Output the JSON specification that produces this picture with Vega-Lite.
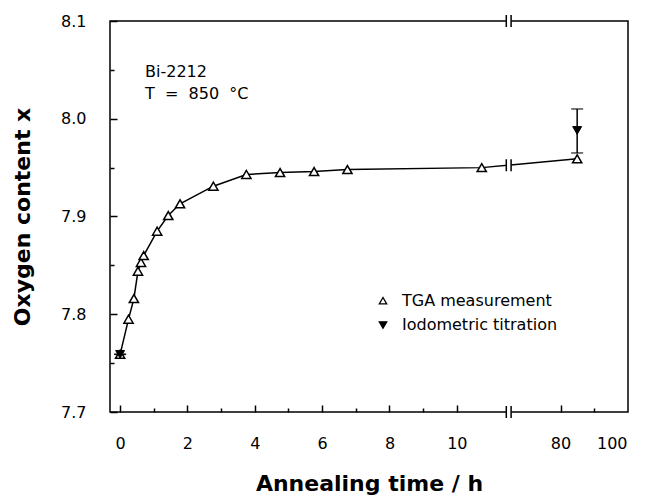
{
  "$schema": "https://vega.github.io/schema/vega-lite/v6.json",
  "autosize": {"type": "none"},
  "width": 518,
  "height": 391,
  "padding": {"left": 110, "top": 21, "right": 22, "bottom": 84},
  "background": "white",
  "config": {
    "view": {"stroke": "black", "strokeWidth": 1.5},
    "font": "DejaVu Sans",
    "axis": {
      "domain": false,
      "grid": false,
      "tickColor": "black",
      "tickWidth": 1.5,
      "labelFont": "DejaVu Sans",
      "labelFontSize": 16,
      "labelColor": "black",
      "titleFont": "DejaVu Sans",
      "titleFontSize": 22,
      "titleFontWeight": "bold",
      "titleColor": "black"
    }
  },
  "datasets": {
    "tga": [
      {"t": 0, "x": 7.759},
      {"t": 0.25, "x": 7.795},
      {"t": 0.41, "x": 7.816},
      {"t": 0.53, "x": 7.844},
      {"t": 0.62, "x": 7.853},
      {"t": 0.7, "x": 7.86},
      {"t": 1.1, "x": 7.885},
      {"t": 1.43, "x": 7.901},
      {"t": 1.78, "x": 7.913},
      {"t": 2.77, "x": 7.931},
      {"t": 3.75, "x": 7.943},
      {"t": 4.75, "x": 7.945},
      {"t": 5.76, "x": 7.946},
      {"t": 6.75, "x": 7.948},
      {"t": 10.74, "x": 7.95},
      {"t": 85, "x": 7.959}
    ],
    "titr": [
      {"t": 0, "x": 7.759, "lo": 7.759, "hi": 7.759},
      {"t": 85, "x": 7.988, "lo": 7.965, "hi": 8.01}
    ],
    "breaks": [
      {"t": 11.54, "x": 8.1},
      {"t": 11.54, "x": 7.7},
      {"t": 11.54, "x": 7.9525}
    ],
    "legend": [
      {"series": "TGA measurement", "t": 7.807, "tl": 8.371, "x": 7.8139},
      {"series": "Iodometric titration", "t": 7.807, "tl": 8.371, "x": 7.789}
    ]
  },
  "resolve": {"axis": {"x": "independent", "y": "independent"}},
  "layer": [
    {
      "data": {"name": "tga"},
      "mark": {"type": "line", "color": "black", "strokeWidth": 1.5},
      "encoding": {
        "x": {
          "field": "t", "type": "quantitative",
          "scale": {"domain": [-0.3, 11.54, 64.4, 100.3], "range": [0, 398.7, 398.7, 518], "nice": false, "zero": false},
          "axis": {"orient": "bottom", "values": [0, 2, 4, 6, 8, 10, 80, 100], "ticks": false, "labelPadding": 23, "title": "Annealing time / h", "titlePadding": 22}
        },
        "y": {
          "field": "x", "type": "quantitative",
          "scale": {"domain": [7.7, 8.1], "nice": false, "zero": false},
          "axis": {"orient": "left", "values": [7.7, 7.8, 7.9, 8.0, 8.1], "format": ".1f", "ticks": false, "labelPadding": 24, "title": "Oxygen content x", "titlePadding": 26}
        }
      }
    },
    {
      "data": {"name": "tga"},
      "mark": {"type": "point", "shape": "triangle-up", "filled": true, "fill": "white", "stroke": "black", "strokeWidth": 1.5, "size": 85, "opacity": 1},
      "encoding": {
        "x": {"field": "t", "type": "quantitative",
          "axis": {"orient": "bottom", "values": [0, 2, 4, 6, 8, 10, 80], "tickSize": 7, "offset": -7, "labels": false, "title": null}},
        "y": {"field": "x", "type": "quantitative",
          "axis": {"orient": "left", "values": [7.7, 7.8, 7.9, 8.0, 8.1], "tickSize": 7, "offset": -7, "labels": false, "title": null}}
      }
    },
    {
      "data": {"name": "titr"},
      "mark": {"type": "errorbar", "ticks": {"size": 12, "color": "black", "thickness": 1.5}, "rule": {"color": "black", "strokeWidth": 1.5}},
      "encoding": {
        "x": {"field": "t", "type": "quantitative", "axis": null},
        "y": {"field": "lo", "type": "quantitative", "axis": null},
        "y2": {"field": "hi"}
      }
    },
    {
      "data": {"name": "titr"},
      "mark": {"type": "point", "shape": "triangle-down", "filled": true, "fill": "black", "stroke": "black", "strokeWidth": 1, "size": 80, "opacity": 1},
      "encoding": {
        "x": {"field": "t", "type": "quantitative",
          "axis": {"orient": "bottom", "values": [1, 3, 5, 7, 9, 90], "tickSize": 4, "offset": -4, "labels": false, "title": null}},
        "y": {"field": "x", "type": "quantitative",
          "axis": {"orient": "left", "values": [7.75, 7.85, 7.95, 8.05], "tickSize": 4, "offset": -4, "labels": false, "title": null}}
      }
    },
    {
      "data": {"name": "breaks"},
      "mark": {"type": "point", "shape": "M-0.45,-0.2L0.45,-0.2L0.45,0.2L-0.45,0.2Z", "filled": true, "fill": "white", "strokeWidth": 0, "size": 144, "opacity": 1},
      "encoding": {
        "x": {"field": "t", "type": "quantitative", "axis": null},
        "y": {"field": "x", "type": "quantitative", "axis": null}
      }
    },
    {
      "data": {"name": "breaks"},
      "mark": {"type": "point", "shape": "M-0.4,-1L-0.4,1M0.4,-1L0.4,1", "filled": false, "stroke": "black", "strokeWidth": 1.5, "size": 144, "opacity": 1},
      "encoding": {
        "x": {"field": "t", "type": "quantitative", "axis": null},
        "y": {"field": "x", "type": "quantitative", "axis": null}
      }
    },
    {
      "data": {"name": "legend"},
      "mark": {"type": "point", "filled": true, "stroke": "black", "strokeWidth": 1.3, "size": 55, "opacity": 1},
      "encoding": {
        "x": {"field": "t", "type": "quantitative", "axis": null},
        "y": {"field": "x", "type": "quantitative", "axis": null},
        "shape": {"field": "series", "type": "nominal", "legend": null,
          "scale": {"domain": ["TGA measurement", "Iodometric titration"], "range": ["triangle-up", "triangle-down"]}},
        "fill": {"field": "series", "type": "nominal", "legend": null,
          "scale": {"domain": ["TGA measurement", "Iodometric titration"], "range": ["white", "black"]}}
      }
    },
    {
      "data": {"name": "legend"},
      "mark": {"type": "text", "align": "left", "baseline": "middle", "font": "DejaVu Sans", "fontSize": 16, "color": "black"},
      "encoding": {
        "x": {"field": "tl", "type": "quantitative", "axis": null},
        "y": {"field": "x", "type": "quantitative", "axis": null},
        "text": {"field": "series"}
      }
    },
    {
      "data": {"values": [{"label": "Bi-2212"}]},
      "mark": {"type": "text", "text": ["Bi-2212", "T \u00a0= \u00a0850 \u00a0°C"], "align": "left", "baseline": "alphabetic", "font": "DejaVu Sans", "fontSize": 16, "color": "black", "lineHeight": 22},
      "encoding": {
        "x": {"datum": 0.74, "type": "quantitative", "axis": null},
        "y": {"datum": 8.043, "type": "quantitative", "axis": null}
      }
    }
  ]
}
